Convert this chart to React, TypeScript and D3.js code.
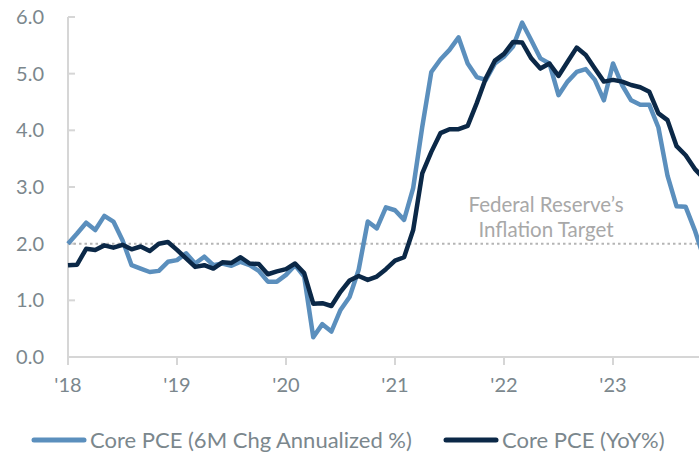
import React from "react";
import * as d3 from "d3";

const WIDTH = 699;
const HEIGHT = 453;
const MARGIN = { top: 17, left: 68, bottom: 96 };
const PX_PER_YEAR = 109;

const yearLabels = ["'18", "'19", "'20", "'21", "'22", "'23"];
const yTicks = [0, 1, 2, 3, 4, 5, 6];
const target = 2.0;

// monthly, Jan 2018 .. Nov 2023
const sixMonthAnn = [
  2.0, 2.18, 2.37, 2.24, 2.49, 2.39, 2.06, 1.62, 1.56, 1.5, 1.52, 1.68,
  1.71, 1.83, 1.65, 1.77, 1.62, 1.65, 1.61, 1.68, 1.62, 1.52, 1.33, 1.33,
  1.45, 1.62, 1.42, 0.35, 0.58, 0.45, 0.83, 1.06, 1.54, 2.39, 2.27, 2.64,
  2.59, 2.42, 2.98, 4.06, 5.03, 5.25, 5.42, 5.64, 5.18, 4.94, 4.89, 5.18,
  5.3, 5.48, 5.9, 5.59, 5.27, 5.18, 4.62, 4.86, 5.03, 5.08, 4.89, 4.53,
  5.18, 4.8, 4.53, 4.45, 4.45, 4.05, 3.2, 2.66, 2.65, 2.24, 1.75,
];
const yoy = [
  1.62, 1.63, 1.91, 1.89, 1.97, 1.93, 1.98, 1.9, 1.95, 1.87, 2.0, 2.03,
  1.89, 1.74, 1.59, 1.62, 1.56, 1.67, 1.66, 1.76, 1.65, 1.64, 1.46, 1.51,
  1.55, 1.65, 1.48, 0.94, 0.95, 0.9, 1.15, 1.35, 1.43, 1.36, 1.42, 1.55,
  1.7, 1.76, 2.24, 3.24, 3.62, 3.95, 4.02, 4.02, 4.08, 4.48, 4.92, 5.23,
  5.35, 5.56, 5.55, 5.27, 5.09, 5.18, 4.96, 5.21, 5.46, 5.33, 5.09, 4.86,
  4.89, 4.86, 4.8, 4.76, 4.68, 4.3, 4.18, 3.72, 3.56, 3.32, 3.15,
];

const BLUE = "#5b8fbd";
const NAVY = "#0b2847";
const AXIS = "#d6d6d6";
const LABEL = "#7b878d";
const FONT = "Lato, 'Open Sans', sans-serif";

export default function App() {
  const bottom = HEIGHT - MARGIN.bottom;

  const x = d3
    .scaleLinear()
    .domain([0, 12])
    .range([MARGIN.left, MARGIN.left + PX_PER_YEAR]);
  const y = d3.scaleLinear().domain([0, 6]).range([bottom, MARGIN.top]);

  const line = d3
    .line<number>()
    .x((_, i) => x(i))
    .y((d) => y(d));

  return (
    <svg
      width={WIDTH}
      height={HEIGHT}
      style={{ position: "absolute", left: 0, top: 0, background: "#fff" }}
      fontFamily={FONT}
    >
      {/* axes */}
      <line x1={x(0)} x2={x(0)} y1={y(6)} y2={bottom + 8} stroke={AXIS} strokeWidth={2} />
      <line x1={x(0)} x2={WIDTH} y1={bottom} y2={bottom} stroke={AXIS} strokeWidth={2} />
      {yTicks.map((t) => (
        <g key={t}>
          <line x1={x(0)} x2={x(0) + 7} y1={y(t)} y2={y(t)} stroke={AXIS} strokeWidth={2} />
          <text x={44} y={y(t)} dy="0.35em" textAnchor="end" fontSize={20} fill={LABEL}>
            {t.toFixed(1)}
          </text>
        </g>
      ))}
      {yearLabels.map((lab, i) => (
        <g key={lab}>
          <line x1={x(i * 12)} x2={x(i * 12)} y1={bottom} y2={bottom + 8} stroke={AXIS} strokeWidth={2} />
          <text x={x(i * 12)} y={392} textAnchor="middle" fontSize={20} fill={LABEL}>
            {lab}
          </text>
        </g>
      ))}

      {/* target */}
      <line
        x1={x(0)}
        x2={WIDTH}
        y1={y(target)}
        y2={y(target)}
        stroke="#b5b5b5"
        strokeWidth={2}
        strokeDasharray="2.5 3"
      />
      <text x={546} y={212} textAnchor="middle" fontSize={20.5} fill="#a8a8a8">
        Federal Reserve’s
      </text>
      <text x={546} y={237} textAnchor="middle" fontSize={20.5} fill="#a8a8a8">
        Inflation Target
      </text>

      <path d={line(sixMonthAnn) ?? ""} fill="none" stroke={BLUE} strokeWidth={4.5} strokeLinejoin="round" />
      <path d={line(yoy) ?? ""} fill="none" stroke={NAVY} strokeWidth={4.5} strokeLinejoin="round" />

      {/* legend */}
      <line x1={34} x2={84} y1={440} y2={440} stroke={BLUE} strokeWidth={5} strokeLinecap="round" />
      <text x={90} y={448} fontSize={22} fill={LABEL}>
        Core PCE (6M Chg Annualized %)
      </text>
      <line x1={446} x2={496} y1={440} y2={440} stroke={NAVY} strokeWidth={5} strokeLinecap="round" />
      <text x={502} y={448} fontSize={22} fill={LABEL}>
        Core PCE (YoY%)
      </text>
    </svg>
  );
}
